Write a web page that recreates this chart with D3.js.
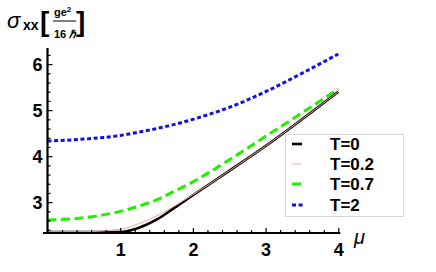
<!DOCTYPE html>
<meta charset="utf-8">
<script src="https://d3js.org/d3.v7.min.js"></script>
<style>
  body { margin: 0; background: #fff; }
  text { font-family: "Liberation Sans", Arial, sans-serif; }
</style>
<div id="chart"></div>
<script>

// data
var mu   = [0, 0.5, 1, 1.25, 1.5, 1.75, 2, 2.5, 3, 3.5, 4];
var sigT0  = [2.35, 2.35, 2.35, 2.44, 2.62, 2.88, 3.15, 3.68, 4.22, 4.80, 5.40];
var sigT02 = [2.36, 2.36, 2.41, 2.53, 2.70, 2.92, 3.16, 3.68, 4.22, 4.80, 5.40];
var sigT07 = [2.61, 2.66, 2.80, 2.91, 3.05, 3.24, 3.44, 3.92, 4.43, 4.94, 5.46];
var sigT2  = [4.33, 4.37, 4.45, 4.52, 4.60, 4.69, 4.80, 5.06, 5.40, 5.80, 6.22];
var labels = ["T=0", "T=0.2", "T=0.7", "T=2"];
var xTicks = [1, 2, 3, 4];
var yTicks = [3, 4, 5, 6];

var width = 436, height = 272;

var svg = d3.select("#chart").append("svg")
  .attr("width", width)
  .attr("height", height);

var x = d3.scaleLinear().domain([0, 4]).range([47.5, 338.3]);
var y = d3.scaleLinear().domain([2.33, 6.35]).range([233, 48]);

// series styles
var series = [
  {name: labels[0], vals: sigT0,  color: "#000000", w: 2.6, dash: null},
  {name: labels[1], vals: sigT02, color: "#f4a0a0", w: 1,   dash: null},
  {name: labels[2], vals: sigT07, color: "#22ee00", w: 3,   dash: "9,4.5"},
  {name: labels[3], vals: sigT2,  color: "#1010ee", w: 3,   dash: "4,2.6"}
];

var line = d3.line()
  .x(function(d) { return x(d[0]); })
  .y(function(d) { return y(d[1]); })
  .curve(d3.curveMonotoneX);

// draw back to front so T=0 sits on top like in the original
[3, 2, 0, 1].forEach(function(i) {
  var s = series[i];
  svg.append("path")
    .datum(mu.map(function(m, j) { return [m, s.vals[j]]; }))
    .attr("d", line)
    .attr("fill", "none")
    .attr("stroke", s.color)
    .attr("stroke-width", s.w)
    .attr("stroke-dasharray", s.dash);
});

// minor ticks
var xMinor = d3.range(0.2, 4.01, 0.2).filter(function(v) { return Math.abs(v - Math.round(v)) > 0.01; });
var yMinor = d3.range(2.4, 6.35, 0.2).filter(function(v) { return Math.abs(v - Math.round(v)) > 0.01; });

var gx = svg.append("g").attr("transform", "translate(0," + y.range()[0] + ")");
gx.call(d3.axisBottom(x).tickValues(xMinor).tickSize(-3).tickFormat(""));
gx.call(function(g) { g.select(".domain").remove(); });
var gx2 = svg.append("g").attr("transform", "translate(0," + y.range()[0] + ")");
gx2.call(d3.axisBottom(x).tickValues(xTicks).tickSize(-5).tickPadding(10).tickFormat(d3.format("d")));
gx2.select(".domain").remove();

var gy = svg.append("g").attr("transform", "translate(" + x(0) + ",0)");
gy.call(d3.axisLeft(y).tickValues(yMinor).tickSize(-3).tickFormat(""));
gy.select(".domain").remove();
var gy2 = svg.append("g").attr("transform", "translate(" + x(0) + ",0)");
gy2.call(d3.axisLeft(y).tickValues(yTicks).tickSize(-5).tickPadding(5).tickFormat(d3.format("d")));
gy2.select(".domain").remove();

svg.selectAll(".tick line").attr("stroke", "#000").attr("stroke-width", 1.2);
svg.selectAll(".tick text")
  .attr("font-size", 18)
  .attr("font-weight", "bold")
  .attr("font-family", "Liberation Sans, Arial, sans-serif")
  .attr("fill", "#000");
gy2.selectAll(".tick text").attr("dy", "0.36em");

// axis lines
svg.append("line")
  .attr("x1", 43).attr("x2", x(4) + 2)
  .attr("y1", y.range()[0]).attr("y2", y.range()[0])
  .attr("stroke", "#000").attr("stroke-width", 2.2);
svg.append("line")
  .attr("x1", x(0)).attr("x2", x(0))
  .attr("y1", y.range()[0] + 1).attr("y2", y.range()[1])
  .attr("stroke", "#000").attr("stroke-width", 2.2);

// axis labels
svg.append("text")
  .attr("x", 354).attr("y", 244)
  .attr("font-family", "Liberation Serif, serif")
  .attr("font-style", "italic")
  .attr("font-size", 20)
  .text("\u03bc");

var yl = svg.append("g");
yl.append("text")
  .attr("x", 7).attr("y", 28)
  .attr("font-family", "Liberation Serif, serif")
  .attr("font-style", "italic")
  .attr("font-size", 22)
  .text("\u03c3");
yl.append("text")
  .attr("x", 23).attr("y", 30)
  .attr("font-size", 14).attr("font-weight", "bold")
  .text("xx");
yl.append("text")
  .attr("x", 40).attr("y", 31)
  .attr("font-size", 28).attr("font-weight", "bold")
  .text("[");
yl.append("text")
  .attr("x", 76).attr("y", 31)
  .attr("font-size", 28).attr("font-weight", "bold")
  .text("]");
var num = yl.append("text")
  .attr("x", 54).attr("y", 16)
  .attr("font-size", 11).attr("font-weight", "bold");
num.append("tspan").text("ge");
num.append("tspan").attr("dy", -4).attr("font-size", 8).text("2");
yl.append("line")
  .attr("x1", 53).attr("x2", 76)
  .attr("y1", 21).attr("y2", 21)
  .attr("stroke", "#000").attr("stroke-width", 1);
var den = yl.append("text")
  .attr("x", 54).attr("y", 38)
  .attr("font-size", 11).attr("font-weight", "bold");
den.append("tspan").text("16 ");
den.append("tspan").attr("font-style", "italic").text("\u210f");

// legend
var lg = svg.append("g");
lg.append("rect")
  .attr("x", 285.5).attr("y", 134.5)
  .attr("width", 118).attr("height", 82)
  .attr("fill", "#fff")
  .attr("stroke", "#d8d8d8");
var rows = [144, 164, 184, 205];
series.forEach(function(s, i) {
  lg.append("line")
    .attr("x1", 292).attr("x2", s.dash === "4,2.6" ? 303 : 302)
    .attr("y1", rows[i]).attr("y2", rows[i])
    .attr("stroke", s.color)
    .attr("stroke-width", s.w)
    .attr("stroke-dasharray", s.dash);
  lg.append("text")
    .attr("x", 330).attr("y", rows[i])
    .attr("dy", "0.36em")
    .attr("font-size", 17).attr("font-weight", "bold")
    .text(s.name);
});

</script>
